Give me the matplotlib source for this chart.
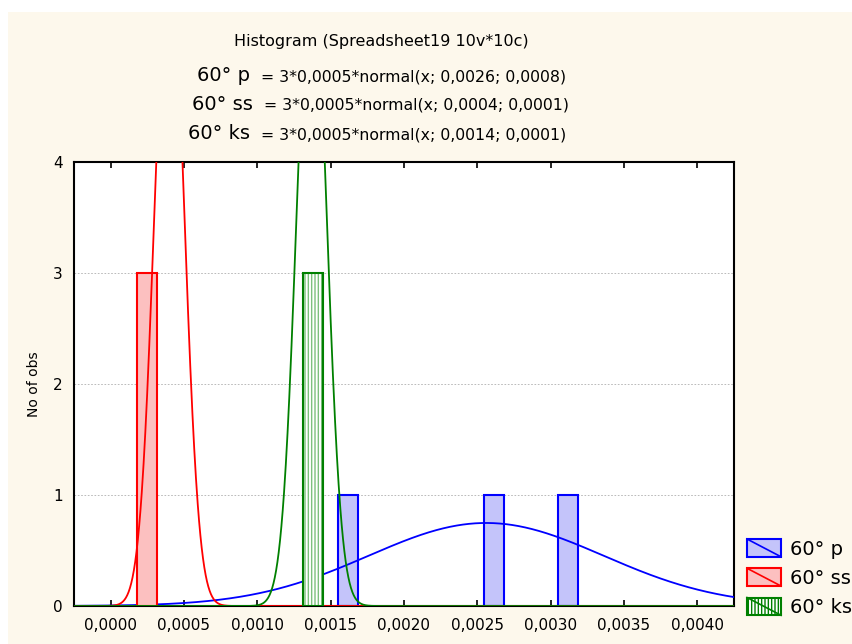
import numpy as np
import matplotlib
matplotlib.use("Agg")
import matplotlib.pyplot as plt
from matplotlib.patches import Rectangle
from matplotlib.lines import Line2D
from matplotlib.legend_handler import HandlerPatch
from matplotlib.ticker import FuncFormatter

plt.rcParams['font.family'] = ['DejaVu Sans']

# histogram bars (bin centre, count)
p_centers = [0.001615, 0.002616, 0.003115]
p_counts = [1, 1, 1]
ss_centers = [0.000246]
ss_counts = [3]
ks_centers = [0.00138]
ks_counts = [3]
bar_width = 0.000136

# fitted normal curves: n * bin_width * normal(x; mu, sigma)
n_obs = 3
bin_width = 0.0005
fits = {
    "60° p": (0.00256, 0.0008),
    "60° ss": (0.0004, 0.0001),
    "60° ks": (0.00137, 0.0001),
}
fit_labels = {
    "60° p": "= 3*0,0005*normal(x; 0,0026; 0,0008)",
    "60° ss": "= 3*0,0005*normal(x; 0,0004; 0,0001)",
    "60° ks": "= 3*0,0005*normal(x; 0,0014; 0,0001)",
}

x_ticks = np.arange(0, 0.00401, 0.0005)
y_ticks = [0, 1, 2, 3, 4]

blue_face = '#c4c4fa'
red_face = '#fcc0c0'


def normal(x, mu, sigma):
    return np.exp(-0.5 * ((x - mu) / sigma) ** 2) / (sigma * np.sqrt(2 * np.pi))


class DiagHandler(HandlerPatch):
    """Statistica-like legend key: filled box with a diagonal stroke."""
    def create_artists(self, legend, orig_handle, xdescent, ydescent,
                       width, height, fontsize, trans):
        rect = Rectangle((-xdescent, -ydescent), width, height,
                         facecolor=orig_handle.get_facecolor(),
                         edgecolor=orig_handle.get_edgecolor(),
                         hatch=orig_handle.get_hatch(),
                         linewidth=1.5, transform=trans)
        line = Line2D([-xdescent, -xdescent + width],
                      [-ydescent + height, -ydescent],
                      color=orig_handle.get_edgecolor(), linewidth=1.2,
                      transform=trans)
        return [rect, line]


fig = plt.figure(figsize=(8.52, 6.44), dpi=100, facecolor='white')
fig.patches.append(Rectangle((8 / 852, 0), 1, 1 - 12 / 644, transform=fig.transFigure,
                             facecolor='#fdf8ec', edgecolor='none', zorder=-10))

ax = fig.add_axes([74 / 852, 1 - 606 / 644, 660 / 852, 444 / 644])
ax.set_facecolor('white')

xs = np.linspace(-0.00025, 0.00425, 1500)

# 60° p
ax.bar(p_centers, p_counts, width=bar_width, color=blue_face, edgecolor='blue',
       linewidth=1.5, zorder=2)
mu, sd = fits["60° p"]
ax.plot(xs, n_obs * bin_width * normal(xs, mu, sd), color='blue', lw=1.3, zorder=3)

# 60° ss
ax.bar(ss_centers, ss_counts, width=bar_width, color=red_face, edgecolor='red',
       linewidth=1.5, zorder=4)
mu, sd = fits["60° ss"]
ax.plot(xs, n_obs * bin_width * normal(xs, mu, sd), color='red', lw=1.3, zorder=5)

# 60° ks (vertical line fill)
ax.bar(ks_centers, ks_counts, width=bar_width, color='white', edgecolor='#7cc07c',
       linewidth=0, hatch='|||||', zorder=6)
ax.bar(ks_centers, ks_counts, width=bar_width, fill=False, edgecolor='green',
       linewidth=1.5, zorder=6)
mu, sd = fits["60° ks"]
ax.plot(xs, n_obs * bin_width * normal(xs, mu, sd), color='green', lw=1.3, zorder=7)

ax.set_xlim(-0.00025, 0.00425)
ax.set_ylim(0, 4)
ax.set_xticks(x_ticks)
ax.set_yticks(y_ticks)
ax.xaxis.set_major_formatter(FuncFormatter(lambda v, _: f"{v:.4f}".replace('.', ',')))
ax.tick_params(axis='x', direction='in', length=4, width=1.2, top=True,
               labelsize=11, pad=9)
ax.tick_params(axis='y', length=0, labelsize=11, pad=8)
for s in ax.spines.values():
    s.set_linewidth(1.5)
ax.grid(axis='y', color='#b0b0b0', linestyle=(0, (2, 2)), linewidth=0.6)
ax.set_axisbelow(True)
ax.set_ylabel("No of obs", fontsize=10, labelpad=9)

# titles
fig.text(381 / 852, 1 - 46 / 644, "Histogram (Spreadsheet19 10v*10c)",
         ha='center', va='baseline', fontsize=11.5)
eq_x = [261, 264, 261]
base_y = [81, 110, 139]
for name, ex, by in zip(fits, eq_x, base_y):
    fig.text((ex - 11) / 852, 1 - by / 644, name, ha='right', va='baseline', fontsize=14)
    fig.text(ex / 852, 1 - by / 644, fit_labels[name], ha='left', va='baseline', fontsize=11.3)

# legend
handles = [
    Rectangle((0, 0), 1, 1, facecolor=blue_face, edgecolor='blue'),
    Rectangle((0, 0), 1, 1, facecolor=red_face, edgecolor='red'),
    Rectangle((0, 0), 1, 1, facecolor='white', edgecolor='green', hatch='|||||'),
]
fig.legend(handles, list(fits), handler_map={Rectangle: DiagHandler()},
           loc='upper left', bbox_to_anchor=(747 / 852, 1 - 539 / 644),
           frameon=False, fontsize=14, borderpad=0, borderaxespad=0,
           handlelength=1.75, handleheight=1.03, handletextpad=0.46,
           labelspacing=0.5)

fig.savefig("out.png", dpi=100, facecolor=fig.get_facecolor())
